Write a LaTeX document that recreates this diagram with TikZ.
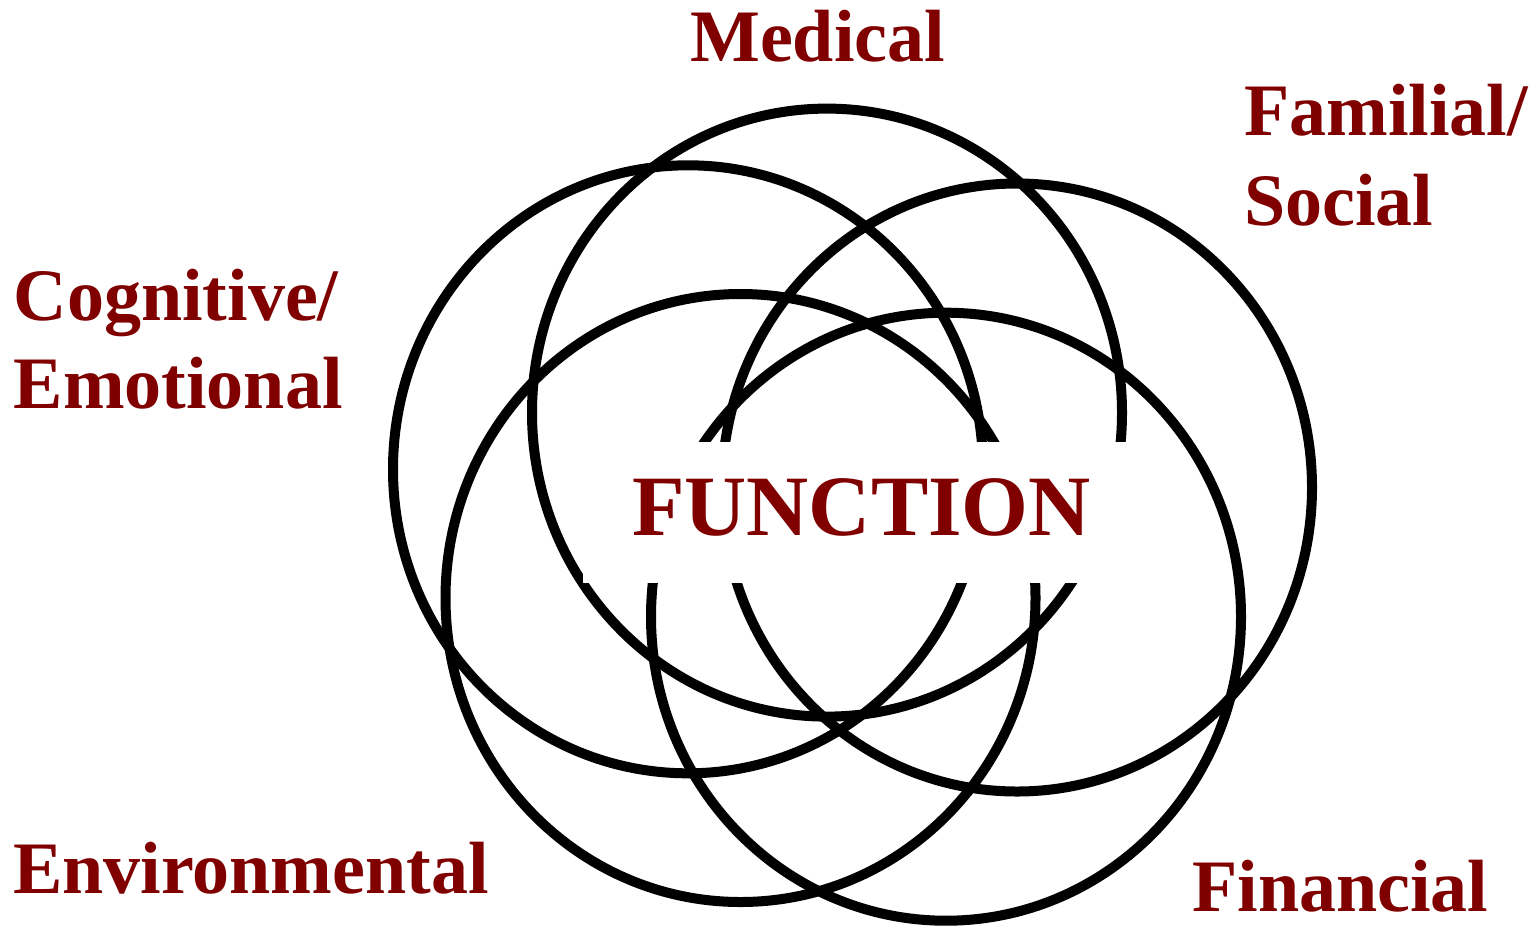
\documentclass[tikz,border=0pt]{standalone}
\usepackage{fontspec}
\setmainfont{Liberation Serif}
\definecolor{labelred}{HTML}{800000}
\begin{document}
\begin{tikzpicture}[x=1pt,y=-1pt,
  ring/.style={draw=black,line width=10pt},
  lbl/.style={anchor=base west,inner sep=0pt,text=labelred,font=\bfseries\fontsize{74}{89}\selectfont},
  centertxt/.style={anchor=base west,inner sep=0pt,text=labelred,font=\bfseries\fontsize{86}{100}\selectfont},
  panel/.style={fill=white,draw=none,inner sep=0pt,anchor=north west}]
\useasboundingbox (0,0) rectangle (1538,927);
% five overlapping rings
\draw[ring] (827,412.6) ellipse [x radius=295pt, y radius=304pt];
\draw[ring] (688,469.3) ellipse [x radius=295pt, y radius=304pt];
\draw[ring] (1017,487.5) ellipse [x radius=295pt, y radius=304pt];
\draw[ring] (740.5,598) ellipse [x radius=295pt, y radius=304pt];
\draw[ring] (946,616.7) ellipse [x radius=295pt, y radius=304pt];
% white panel behind the central word
\node[panel,minimum width=553pt,minimum height=141pt] (panel) at (583,442) {};
\node[centertxt] (function) at (632,535) {FUNCTION};
% labels
\node[lbl] (medical) at (690,61) {Medical};
\node[lbl] (familial) at (1244,135) {Familial/};
\node[lbl] (social) at (1244,225) {Social};
\node[lbl] (cognitive) at (13.5,320) {Cognitive/};
\node[lbl] (emotional) at (13.5,408) {Emotional};
\node[lbl] (environmental) at (13,893) {Environmental};
\node[lbl] (financial) at (1192,911) {Financial};
\end{tikzpicture}
\end{document}
